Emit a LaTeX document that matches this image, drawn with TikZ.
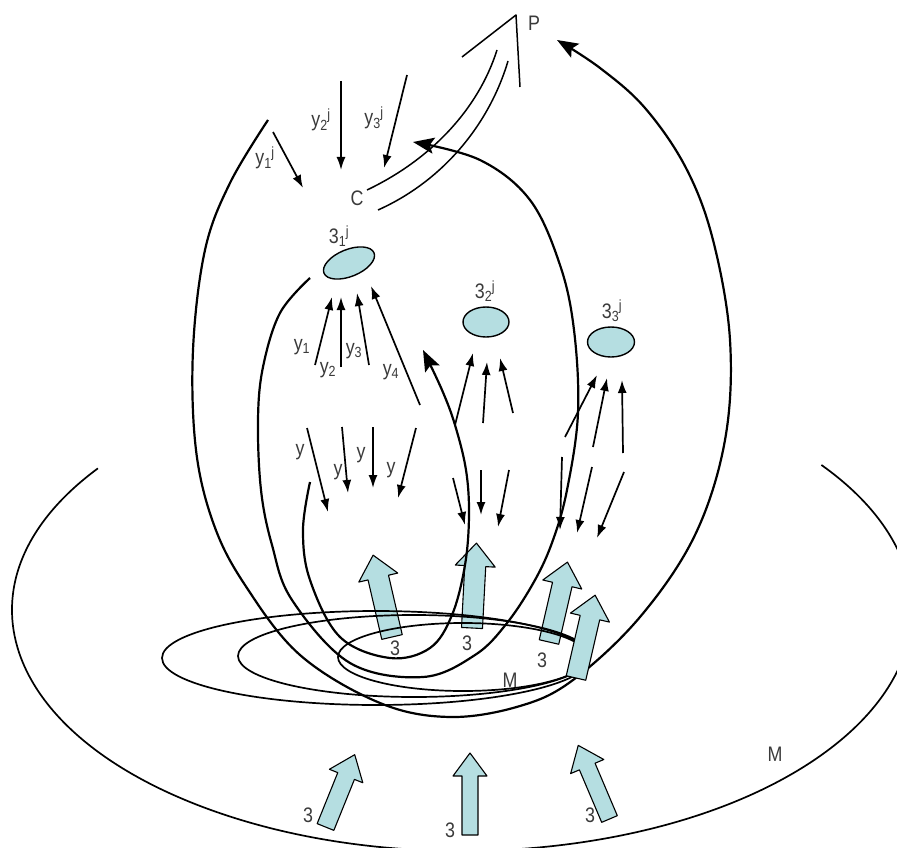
\documentclass[tikz,border=0pt]{standalone}
\usepackage{fontspec}
\setmainfont{Liberation Sans}[FakeStretch=0.85]
\usetikzlibrary{arrows.meta,shapes.geometric}
\definecolor{cyanfill}{HTML}{B5DEE1}
\definecolor{labelgray}{HTML}{3A3A3A}
\newcommand\subsup[2]{\textsubscript{#1}\kern-0.5pt\textsuperscript{#2}}
\newcommand\blockarr[5]{%
  \begin{scope}[shift={#1},rotate=#2]
    \draw[blockarrow] (-#4,0) -- (-#4,{-#3+23}) -- (-#5,{-#3+23}) -- (0,-#3) -- (#5,{-#3+23}) -- (#4,{-#3+23}) -- (#4,0) -- cycle;
  \end{scope}}
\tikzset{
  lbl/.style={text=labelgray, font=\fontsize{21}{23}\selectfont, inner sep=0pt},
  thinarrow/.style={line width=1.7pt, -{Latex[length=13pt,width=9pt]}},
  loopcurve/.style={line width=2.2pt, -{Stealth[length=21pt,width=16pt,inset=4pt]}},
  blockarrow/.style={draw=black, line width=1.1pt, fill=cyanfill},
  outline/.style={line width=1.7pt},
  smallell/.style={ellipse, draw, line width=1.4pt, fill=cyanfill, inner sep=0pt}
}
\begin{document}
\begin{tikzpicture}[x=1pt,y=-1pt,line join=round]
\useasboundingbox (0,0) rectangle (897,848);
\clip (0,0) rectangle (897,848);

% outer M
\draw[outline] (462,610) ++(216:450 and 241) arc[start angle=216,end angle=-37,x radius=450,y radius=241];

% upper block arrows (under lines)
\blockarr{(392,637)}{13}{84}{10.5}{20}
\blockarr{(472,628)}{-3}{85}{10.5}{20}
\blockarr{(549,642)}{-13}{82}{10}{20}

% inner nested ellipses
\draw[outline] (376,658) ellipse [x radius=214, y radius=47];
\draw[outline] (414,656) ellipse [x radius=176, y radius=41];
\draw[outline] (463,657) ellipse [x radius=125, y radius=34];

% loops
\draw[loopcurve] plot[smooth, tension=0.6] coordinates {(268,120) (230,183) (205,250) (193,350) (196,450) (214,525) (245,585) (300,655) (380,703) (450,717) (520,706) (573,680) (640,617) (695,535) (725,440) (730,340) (713,240) (686,168) (645,108) (600,68) (557,40)};
\draw[loopcurve] plot[smooth, tension=0.6] coordinates {(310,278) (280,313) (263,367) (258,420) (261,490) (272,545) (292,600) (350,663) (423,677) (475,655) (507,623) (535,580) (553,540) (567,490) (578,413) (574,330) (560,265) (530,200) (480,160) (413,142)};
\draw[loopcurve] plot[smooth, tension=0.6] coordinates {(310,482) (303,530) (310,580) (340,637) (390,658) (430,648) (452,615) (465,565) (469,515) (466,470) (455,425) (442,390) (423,350)};

% big lower-right block arrow (on top)
\blockarr{(576,678)}{-13}{85}{10}{20}

% lower block arrows
\blockarr{(325.5,827)}{-22}{78}{9}{18}
\blockarr{(470,835)}{0}{82}{8}{17}
\blockarr{(609.5,819)}{23}{80}{8.5}{18}

% C -> P double line
\node[lbl] (C) at (357,198) {C};
\node[lbl] (P) at (534,23) {P};
\draw[line width=1.5pt] (367,190) .. controls (430,160) and (478,110) .. (497,50);
\draw[line width=1.5pt] (378,210) .. controls (445,180) and (490,122) .. (508,61);
\draw[line width=1.5pt] (462,57) -- (516,15) -- (520,87);

% arrows to C
\draw[thinarrow] (273,132) -- (303,188);
\draw[thinarrow] (341,81) -- (341,170);
\draw[thinarrow] (407,75) -- (384,168);
\node[lbl] (ly1j) at (265,158) {y\subsup{1}{j}};
\node[lbl] (ly2j) at (321,120) {y\subsup{2}{j}};
\node[lbl] (ly3j) at (374,118) {y\subsup{3}{j}};

% small ellipses
\node[smallell, minimum width=54pt, minimum height=27pt, rotate=22] (e1) at (349,263) {};
\node[smallell, minimum width=46pt, minimum height=30pt] (e2) at (486,322) {};
\node[smallell, minimum width=47pt, minimum height=30pt] (e3) at (611,342) {};
\node[lbl] (l31) at (339,236) {3\subsup{1}{j}};
\node[lbl] (l32) at (485,291) {3\subsup{2}{j}};
\node[lbl] (l33) at (612,311) {3\subsup{3}{j}};

% arrows up to e1
\draw[thinarrow] (315,365) -- (332,297);
\draw[thinarrow] (341,367) -- (341,297);
\draw[thinarrow] (369,365) -- (357,293);
\draw[thinarrow] (420,405) -- (371,286);
\node[lbl] (ly1) at (302,347) {y\textsubscript{1}};
\node[lbl] (ly2) at (328,370) {y\textsubscript{2}};
\node[lbl] (ly3) at (354,351) {y\textsubscript{3}};
\node[lbl] (ly4) at (391,372) {y\textsubscript{4}};

% arrows down (y)
\draw[thinarrow] (307,428) -- (328,512);
\draw[thinarrow] (342,427) -- (348,493);
\draw[thinarrow] (373,427) -- (373,488);
\draw[thinarrow] (416,428) -- (398,498);
\node[lbl] (ya) at (300,452) {y};
\node[lbl] (yb) at (338,472) {y};
\node[lbl] (yc) at (361,455) {y};
\node[lbl] (yd) at (391,470) {y};

% e2 group
\draw[thinarrow] (455,425) -- (473,353);
\draw[thinarrow] (483,423) -- (487,362);
\draw[thinarrow] (513,413) -- (500,358);
\draw[thinarrow] (453,478) -- (465,525);
\draw[thinarrow] (481,470) -- (481,515);
\draw[thinarrow] (509,470) -- (498,527);

% e3 group
\draw[thinarrow] (565,437) -- (597,375);
\draw[thinarrow] (593,447) -- (607,378);
\draw[thinarrow] (623,453) -- (622,380);
\draw[thinarrow] (562,457) -- (560,530);
\draw[thinarrow] (592,467) -- (577,533);
\draw[thinarrow] (624,472) -- (597,538);

% labels 3 and M
\node[lbl] (t1) at (395,648) {3};
\node[lbl] (t2) at (467,643) {3};
\node[lbl] (t3) at (542,660) {3};
\node[lbl] (t4) at (308,815) {3};
\node[lbl] (t5) at (450,830) {3};
\node[lbl] (t6) at (590,815) {3};
\node[lbl] (M1) at (510,680) {M};
\node[lbl] (M2) at (775,754) {M};
\end{tikzpicture}
\end{document}
